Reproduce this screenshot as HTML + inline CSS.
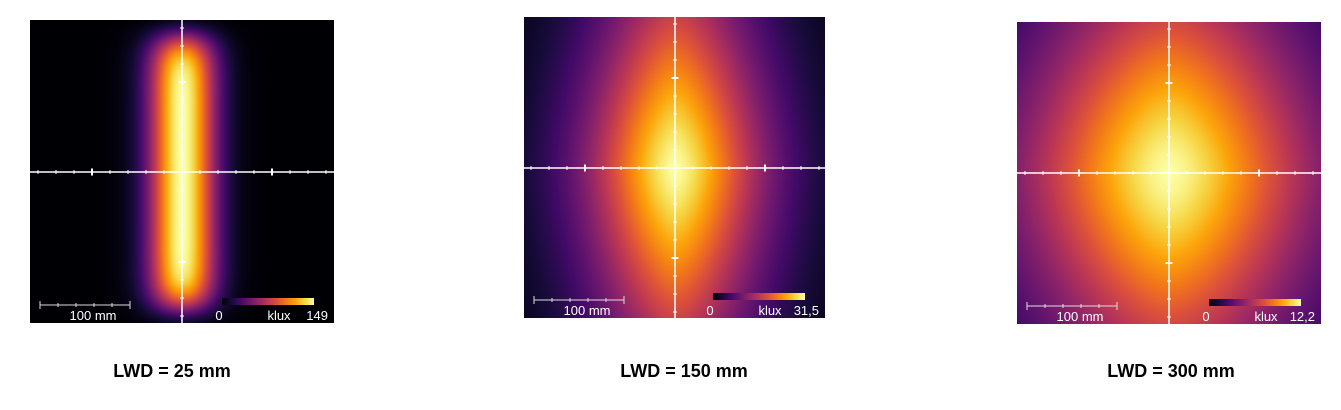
<!DOCTYPE html>
<html><head><meta charset="utf-8">
<style>
body{margin:0;background:#fff;width:1341px;height:410px;position:relative;overflow:hidden;font-family:"Liberation Sans",sans-serif}
.panel{position:absolute}
.panel canvas{position:absolute;left:0;top:0}
.panel svg{position:absolute;left:0;top:0}
.cap{position:absolute;font-weight:bold;font-size:18px;color:#000;transform:translateX(-50%);white-space:nowrap}
</style></head><body>
<div id="p0" class="panel" style="left:30px;top:20px;width:304px;height:303px"></div>
<div id="p1" class="panel" style="left:524px;top:17px;width:301px;height:301px"></div>
<div id="p2" class="panel" style="left:1017px;top:22px;width:304px;height:302px"></div>
<div class="cap" style="left:172px;top:361px">LWD = 25 mm</div>
<div class="cap" style="left:684px;top:361px">LWD = 150 mm</div>
<div class="cap" style="left:1171px;top:361px">LWD = 300 mm</div>
<script>
const lwd=[25,150,300];
const maxKlux=["149","31,5","12,2"];
const sigmaX=[37,100,168];
const sigmaY=[152,234,240];
const powY=[10,1.5,1.6];
const powX=[2,1.6,1.6];
const centers=[[152,152],[151,151],[152,151]];
const pxPerMm=0.9;
const stops=[[0,0,4],[22,11,57],[66,10,104],[106,23,110],[147,38,103],[188,55,84],[221,81,58],[243,120,25],[252,165,10],[246,215,70],[252,255,164]];
function inferno(t){t=Math.max(0,Math.min(1,t))*10;const i=Math.min(9,Math.floor(t)),f=t-i;const a=stops[i],b=stops[i+1];return [a[0]+(b[0]-a[0])*f,a[1]+(b[1]-a[1])*f,a[2]+(b[2]-a[2])*f];}
const NS="http://www.w3.org/2000/svg";
function mk(tag,attrs,parent){const e=document.createElementNS(NS,tag);for(const k in attrs)e.setAttribute(k,attrs[k]);parent.appendChild(e);return e;}
lwd.forEach((L,k)=>{
 const host=document.getElementById('p'+k);
 const W=host.offsetWidth,H=host.offsetHeight;
 const cv=document.createElement('canvas');cv.width=W;cv.height=H;
 
 
 host.appendChild(cv);
 const ctx=cv.getContext('2d');const im=ctx.createImageData(W,H);
 const [cx,cy]=centers[k];
 for(let y=0;y<H;y++)for(let x=0;x<W;x++){
  const mx=(x-cx)/pxPerMm,my=(y-cy)/pxPerMm;
  const v=Math.exp(-Math.pow(Math.abs(mx)/sigmaX[k],powX[k]))*Math.exp(-Math.pow(Math.abs(my)/sigmaY[k],powY[k]));
  const c=inferno(v);const o=(y*W+x)*4;im.data[o]=c[0];im.data[o+1]=c[1];im.data[o+2]=c[2];im.data[o+3]=255;}
 ctx.putImageData(im,0,0);
 const svg=mk('svg',{width:W,height:H},host);
 
 
 const g=mk('g',{stroke:'#fff','stroke-width':1.5},svg);
 mk('line',{x1:0,y1:cy,x2:W,y2:cy},g);
 mk('line',{x1:cx,y1:0,x2:cx,y2:H},g);
 const step=20*pxPerMm;
 for(let i=-8;i<=8;i++){if(!i)continue;const big=Math.abs(i)===5;const h=big?3.5:2;
  const tx=cx+i*step;if(tx>2&&tx<W-2)mk('line',{x1:tx,y1:cy-h,x2:tx,y2:cy+h,'stroke-width':big?2:1},g);
  const ty=cy+i*step;if(ty>2&&ty<H-2)mk('line',{x1:cx-h,y1:ty,x2:cx+h,y2:ty,'stroke-width':big?2:1},g);}
 const sb=mk('g',{stroke:'#ddd','stroke-width':1},svg);
 
 
 const sx0=10,sy0=H-18;mk('line',{x1:sx0,y1:sy0,x2:sx0+90,y2:sy0},sb);
 for(let i=0;i<=5;i++)mk('line',{x1:sx0+i*18,y1:sy0-(i%5?2:4),x2:sx0+i*18,y2:sy0+(i%5?2:4)},sb);
 const t=mk('text',{x:sx0+53,y:H-3,fill:'#fff','font-size':13,'text-anchor':'middle','font-family':'Liberation Sans'},svg);t.textContent='100  mm';
 const gid='cb'+k;const defs=mk('defs',{},svg);const lg=mk('linearGradient',{id:gid},defs);
 for(let i=0;i<=10;i++){const c=stops[i];mk('stop',{offset:(i*10)+'%','stop-color':`rgb(${c})`},lg);}
 const cb=mk('rect',{x:W-112,y:H-25,width:92,height:7,fill:`url(#${gid})`},svg);
 
 
 const l0=mk('text',{x:W-115,y:H-3,fill:'#fff','font-size':13,'text-anchor':'middle','font-family':'Liberation Sans'},svg);l0.textContent='0';
 const l1=mk('text',{x:W-55,y:H-3,fill:'#fff','font-size':13,'text-anchor':'middle','font-family':'Liberation Sans'},svg);l1.textContent='klux';
 const l2=mk('text',{x:W-6,y:H-3,fill:'#fff','font-size':13,'text-anchor':'end','font-family':'Liberation Sans'},svg);l2.textContent=maxKlux[k];
});
</script>
</body></html>
